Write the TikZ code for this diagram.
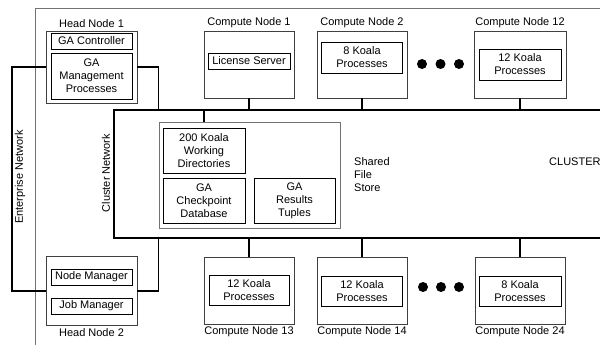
\documentclass[tikz,border=0pt]{standalone}
\usepackage{fontspec}
\setmainfont{Liberation Sans}
\usetikzlibrary{positioning}

\begin{document}
\begin{tikzpicture}[x=1pt,y=-1pt,
    every node/.style={font=\fontsize{11}{13}\selectfont},
    machine/.style={draw=black!75,line width=0.8pt,inner sep=0pt},
    task/.style={draw=black,line width=0.8pt,inner sep=0pt,minimum width=81pt,align=center},
    lbl/.style={inner sep=1pt},
    net/.style={line width=1.5pt},
    dot/.style={circle,fill=black,inner sep=0pt,minimum size=10pt}]
  \useasboundingbox (0,0) rectangle (608,345);
  % cluster boundary
  \draw[black!55,line width=0.9pt] (35,345) -- (35,8) -- (600,8);
  \node[anchor=west,inner sep=0pt] (cluster) at (549,162) {CLUSTER};
  % head nodes
  \node[machine,minimum width=91pt,minimum height=72pt] (hn1) at (91.5,67) {};
  \node[lbl,above=2pt of hn1] (hn1lbl) {Head Node 1};
  \node[task,minimum height=16pt] (gactl) at (91.5,41) {GA Controller};
  \node[task,minimum height=46pt] (gamgmt) at (91.5,76) {GA\\Management\\Processes};
  \node[machine,minimum width=91pt,minimum height=69pt] (hn2) at (91.5,291) {};
  \node[lbl,below=1pt of hn2] (hn2lbl) {Head Node 2};
  \node[task,minimum height=16pt] (nodemgr) at (91.5,277) {Node Manager};
  \node[task,minimum height=16pt] (jobmgr) at (91.5,306) {Job Manager};
  % compute nodes, top row
  \node[machine,minimum width=90pt,minimum height=67pt] (cn1) at (249,64.5) {};
  \node[lbl,above=2pt of cn1] (cn1lbl) {Compute Node 1};
  \node[task,minimum width=82pt,minimum height=16pt] (lic) at (249,61) {License Server};
  \node[machine,minimum width=90pt,minimum height=67pt] (cn2) at (362,64.5) {};
  \node[lbl,above=2pt of cn2] (cn2lbl) {Compute Node 2};
  \node[task,minimum height=31pt] (kp2) at (362,57.5) {8 Koala\\Processes};
  \node[machine,minimum width=92pt,minimum height=67pt] (cn12) at (520,64.5) {};
  \node[lbl,above=2pt of cn12] (cn12lbl) {Compute Node 12};
  \node[task,minimum width=82pt,minimum height=31pt] (kp12) at (520,64.5) {12 Koala\\Processes};
  \node[dot] (d1) at (422,64) {};
  \node[dot] (d2) at (440.5,64) {};
  \node[dot] (d3) at (459,64) {};
  % compute nodes, bottom row
  \node[machine,minimum width=90pt,minimum height=67pt] (cn13) at (249,290.5) {};
  \node[lbl,below=1pt of cn13] (cn13lbl) {Compute Node 13};
  \node[task,minimum width=80pt,minimum height=30pt] (kp13) at (249,290) {12 Koala\\Processes};
  \node[machine,minimum width=90pt,minimum height=67pt] (cn14) at (362,290.5) {};
  \node[lbl,below=1pt of cn14] (cn14lbl) {Compute Node 14};
  \node[task,minimum height=30pt] (kp14) at (362,291) {12 Koala\\Processes};
  \node[machine,minimum width=90pt,minimum height=67pt] (cn24) at (520,290.5) {};
  \node[lbl,below=1pt of cn24] (cn24lbl) {Compute Node 24};
  \node[task,minimum width=82pt,minimum height=30pt] (kp24) at (520,291) {8 Koala\\Processes};
  \node[dot] (d4) at (423,287) {};
  \node[dot] (d5) at (441,287) {};
  \node[dot] (d6) at (459,287) {};
  % shared file store
  \node[draw=black!55,line width=0.9pt,minimum width=181pt,minimum height=106pt] (sfs) at (249.5,175) {};
  \node[task,minimum width=82pt,minimum height=45pt] (wd) at (204,150.5) {200 Koala\\Working\\Directories};
  \node[task,minimum width=82pt,minimum height=45pt] (chk) at (204,200.5) {GA\\Checkpoint\\Database};
  \node[task,minimum height=45pt] (res) at (294.5,200.5) {GA\\Results\\Tuples};
  \node[anchor=west,align=left,inner sep=0pt] (sfslbl) at (354,175) {Shared\\File\\Store};
  % networks
  \coordinate (cnTL) at (114,110);
  \coordinate (cnBL) at (114,238);
  \coordinate (cnTR) at (600,110);
  \coordinate (cnBR) at (600,238);
  \draw[net] (cnTR) -- (cnTL) -- (cnBL) -- (cnBR);
  \node[rotate=90] (cnlbl) at (106,173) {Cluster Network};
  \coordinate (entop) at (12,67);
  \coordinate (enbot) at (12,291);
  \draw[net] (hn1.west) -- (entop) -- (enbot) -- (hn2.west);
  \node[rotate=90] (enlbl) at (20,177) {Enterprise Network};
  \draw[net] (hn1.east) -| (sfs.west |- cnTL);
  \draw[net] (hn2.east) -| (sfs.west |- cnBL);
  \draw[net] (wd.north |- sfs.north) -- (wd |- cnTL);
  \foreach \c in {cn1,cn2,cn12} \draw[net] (\c.south) -- (\c.south |- cnTL);
  \foreach \c in {cn13,cn14,cn24} \draw[net] (\c.north) -- (\c.north |- cnBL);
\end{tikzpicture}
\end{document}
